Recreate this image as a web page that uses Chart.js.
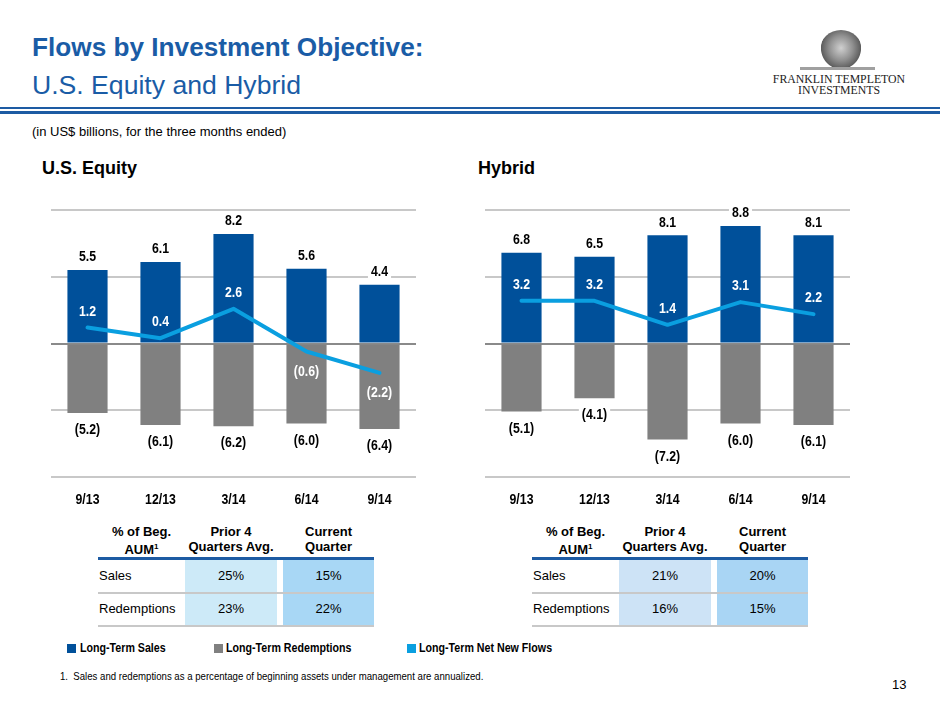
<!DOCTYPE html>
<html>
<head>
<meta charset="utf-8">
<script src="https://cdn.jsdelivr.net/npm/chart.js@4.4.1/dist/chart.umd.min.js"></script>
<style>
  html, body { margin:0; padding:0; background:#fff; }
  body { width:940px; height:705px; position:relative; overflow:hidden; font-family:'Liberation Sans', Arial, sans-serif; color:#000; }
  .abs { position:absolute; white-space:nowrap; }
  .narrow { transform-origin: 0 50%; }
  #title { left:32px; top:32px; font-size:26.2px; font-weight:bold; color:#1a5ca6; }
  #subtitle { left:32px; top:70px; font-size:26.6px; color:#1a5ca6; }
  .rule1 { left:0; top:107px; width:940px; height:1.6px; background:#1d5ba3; }
  .rule2 { left:0; top:111px; width:940px; height:3px; background:#1d5ba3; }
  #units { left:32px; top:124px; font-size:13px; }
  .ctitle { top:158px; font-size:18px; font-weight:bold; }
  .chartbox { position:absolute; top:200px; width:365px; height:307px; }
  .cell { position:absolute; text-align:center; }
  .hdr { font-weight:bold; font-size:13px; line-height:15px; }
  .body { font-size:13px; }
  .legsq { position:absolute; width:9px; height:9px; top:644px; }
  .legtx { position:absolute; top:640px; font-size:13px; font-weight:bold; transform:scaleX(0.82); transform-origin:0 50%; white-space:nowrap; }
  #foot { left:60px; top:670px; font-size:11.5px; transform:scaleX(0.836); }
  #page { left:892px; top:677px; font-size:13px; }
  #logoOval { left:820px; top:30px; width:42px; height:40px; border-radius:50%;
     background: radial-gradient(ellipse at 50% 45%, #d0d0d0 0%, #909090 40%, #5e5e5e 66%, #fff 69%, #fff 78%, #8a8a8a 81%, #fff 92%); }
  #logoBase { left:800px; top:67px; width:75px; height:3px; background:#a0a0a0; }
  #logo1 { left:770px; top:72px; width:138px; text-align:center; font-family:'Liberation Serif','Times New Roman',serif; font-size:11.8px; color:#222; }
  #logo2 { left:770px; top:83px; width:138px; text-align:center; font-family:'Liberation Serif','Times New Roman',serif; font-size:11.8px; color:#222; }
</style>
</head>
<body>
<div class="abs" id="title">Flows by Investment Objective:</div>
<div class="abs" id="subtitle">U.S. Equity and Hybrid</div>
<div class="abs" id="logoOval"></div>
<div class="abs" id="logoBase"></div>
<div class="abs" id="logo1">FRANKLIN TEMPLETON</div>
<div class="abs" id="logo2">INVESTMENTS</div>
<div class="abs rule1"></div>
<div class="abs rule2"></div>
<div class="abs" id="units">(in US$ billions, for the three months ended)</div>
<div class="abs ctitle" style="left:42px;">U.S. Equity</div>
<div class="abs ctitle" style="left:478px;">Hybrid</div>

<div class="chartbox" style="left:51px;"><canvas id="c1" width="365" height="307"></canvas></div>
<div class="chartbox" style="left:485px;"><canvas id="c2" width="365" height="307"></canvas></div>

<div id="tables"></div>

<div class="legsq" style="left:67px;background:#00509a;"></div>
<div class="legtx" style="left:80px;">Long-Term Sales</div>
<div class="legsq" style="left:214px;background:#808080;"></div>
<div class="legtx" style="left:226px;">Long-Term Redemptions</div>
<div class="legsq" style="left:407px;background:#0a9fe0;"></div>
<div class="legtx" style="left:419px;">Long-Term Net New Flows</div>

<div class="abs narrow" id="foot">1.&nbsp; Sales and redemptions as a percentage of beginning assets under management are annualized.</div>
<div class="abs" id="page">13</div>

<script>
// ---------- data ----------
const quarters = ['9/13', '12/13', '3/14', '6/14', '9/14'];

const equitySales       = [5.5, 6.1, 8.2, 5.6, 4.4];
const equityRedemptions = [-5.2, -6.1, -6.2, -6.0, -6.4];
const equityNetFlows    = [1.2, 0.4, 2.6, -0.6, -2.2];

const hybridSales       = [6.8, 6.5, 8.1, 8.8, 8.1];
const hybridRedemptions = [-5.1, -4.1, -7.2, -6.0, -6.1];
const hybridNetFlows    = [3.2, 3.2, 1.4, 3.1, 2.2];

const tableRowLabels = ['Sales', 'Redemptions'];
const tableHeaders   = [['% of Beg.', 'AUM<sup style="font-size:8px">1</sup>'], ['Prior 4', 'Quarters Avg.'], ['Current', 'Quarter']];
const equityPrior    = ['25%', '23%'];
const equityCurrent  = ['15%', '22%'];
const hybridPrior    = ['21%', '16%'];
const hybridCurrent  = ['20%', '15%'];

// ---------- styles ----------
const SALES_COLOR = '#00509a';
const REDEMP_COLOR = '#808080';
const NET_COLOR = '#0a9fe0';
const LABEL_FONT = "bold 15px 'Liberation Sans', Arial, sans-serif";
const NARROW = 0.82;

function fmt(v) {
  return v < 0 ? '(' + Math.abs(v).toFixed(1) + ')' : v.toFixed(1);
}

function narrowText(ctx, text, x, y) {
  ctx.save();
  ctx.translate(x, y);
  ctx.scale(NARROW, 1);
  ctx.fillText(text, 0, 0);
  ctx.restore();
}

const labelPlugin = {
  id: 'valueLabels',
  afterDatasetsDraw(chart) {
    const ctx = chart.ctx;
    ctx.save();
    ctx.font = LABEL_FONT;
    ctx.textAlign = 'center';
    ctx.textBaseline = 'middle';
    const salesMeta = chart.getDatasetMeta(0);
    const redMeta = chart.getDatasetMeta(1);
    const netMeta = chart.getDatasetMeta(2);
    const ds = chart.data.datasets;
    function boxed(text, x, y) {
      const w = ctx.measureText(text).width * NARROW + 6;
      ctx.fillStyle = '#fff';
      ctx.fillRect(x - w / 2, y - 8, w, 16);
      ctx.fillStyle = '#000';
      narrowText(ctx, text, x, y + 1);
    }
    salesMeta.data.forEach((bar, i) => boxed(fmt(ds[0].data[i]), bar.x, bar.y - 14));
    redMeta.data.forEach((bar, i) => boxed(fmt(ds[1].data[i]), bar.x, bar.y + 16));
    ctx.fillStyle = '#fff';
    netMeta.data.forEach((pt, i) => {
      const v = ds[2].data[i];
      const y = v >= 0 ? pt.y - 17 : pt.y + 19;
      narrowText(ctx, fmt(v), pt.x, y + 1);
    });
    // category labels
    const xs = chart.scales.x;
    ctx.fillStyle = '#000';
    chart.data.labels.forEach((lab, i) => {
      narrowText(ctx, lab, xs.getPixelForValue(i), chart.chartArea.bottom + 23);
    });
    ctx.restore();
  }
};

function makeChart(id, sales, redemptions, net) {
  new Chart(document.getElementById(id), {
    data: {
      labels: quarters,
      datasets: [
        { type: 'bar', label: 'Long-Term Sales', data: sales, backgroundColor: SALES_COLOR,
          grouped: false, barPercentage: 0.55, categoryPercentage: 1, order: 2 },
        { type: 'bar', label: 'Long-Term Redemptions', data: redemptions, backgroundColor: REDEMP_COLOR,
          grouped: false, barPercentage: 0.55, categoryPercentage: 1, order: 2 },
        { type: 'line', label: 'Long-Term Net New Flows', data: net, borderColor: NET_COLOR,
          borderWidth: 4, pointRadius: 0, tension: 0, fill: false, order: 1,
          borderJoinStyle: 'round', borderCapStyle: 'round' }
      ]
    },
    options: {
      responsive: false,
      animation: false,
      devicePixelRatio: 1,
      layout: { padding: { top: 10, left: 0, right: 0, bottom: 0 } },
      plugins: { legend: { display: false }, tooltip: { enabled: false } },
      scales: {
        x: {
          offset: true,
          grid: { display: false, drawTicks: false },
          border: { display: false },
          ticks: { display: false },
          afterFit(scale) { scale.height = 30; }
        },
        y: {
          min: -10, max: 10,
          ticks: { display: false, stepSize: 5 },
          border: { display: false },
          grid: {
            drawTicks: false,
            lineWidth: 2,
            color: c => (c.tick && c.tick.value === 0) ? '#8a8a8a' : '#c8c8c8'
          },
          afterFit(scale) { scale.width = 0; }
        }
      }
    },
    plugins: [labelPlugin]
  });
}

makeChart('c1', equitySales, equityRedemptions, equityNetFlows);
makeChart('c2', hybridSales, hybridRedemptions, hybridNetFlows);

// ---------- tables ----------
function makeTable(L, prior, current, c2, c3) {
  const root = document.getElementById('tables');
  function el(style, html, cls) {
    const d = document.createElement('div');
    d.className = 'cell ' + (cls || '');
    Object.assign(d.style, style);
    if (html !== undefined) d.innerHTML = html;
    root.appendChild(d);
    return d;
  }
  const cols = [[L, 87], [L + 87, 92], [L + 185, 91]];
  el({ left: cols[1][0] + 'px', top: '559px', width: cols[1][1] + 'px', height: '67px', background: c2 });
  el({ left: cols[2][0] + 'px', top: '559px', width: cols[2][1] + 'px', height: '67px', background: c3 });
  tableHeaders.forEach((h, j) => {
    el({ left: (cols[j][0] - 20) + 'px', top: '524px', width: (cols[j][1] + 40) + 'px' }, h[0] + '<br>' + h[1], 'hdr');
  });
  el({ left: L + 'px', top: '557px', width: '276px', height: '3px', background: '#1d5ba3' });
  el({ left: L + 'px', top: '592px', width: '276px', height: '2px', background: '#c8c8c8' });
  el({ left: L + 'px', top: '625px', width: '276px', height: '1.5px', background: '#c8c8c8' });
  const rowTops = [568, 601];
  tableRowLabels.forEach((r, i) => {
    el({ left: (L + 1) + 'px', top: rowTops[i] + 'px', textAlign: 'left' }, r, 'body');
    el({ left: cols[1][0] + 'px', top: rowTops[i] + 'px', width: cols[1][1] + 'px' }, prior[i], 'body');
    el({ left: cols[2][0] + 'px', top: rowTops[i] + 'px', width: cols[2][1] + 'px' }, current[i], 'body');
  });
}
makeTable(98, equityPrior, equityCurrent, '#cdeaf8', '#a8d7f5');
makeTable(532, hybridPrior, hybridCurrent, '#cde3f6', '#a9d5f4');
</script>
</body>
</html>
